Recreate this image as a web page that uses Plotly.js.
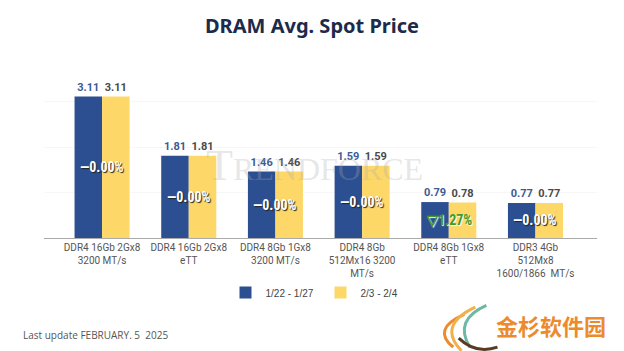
<!DOCTYPE html>
<html><head><meta charset="utf-8">
<script src="https://cdn.plot.ly/plotly-3.0.1.min.js"></script>
<style>html,body{margin:0;padding:0;background:#fff}#chart{width:624px;height:351px}</style>
</head><body><div id="chart"></div>
<script>
const categories = ["DDR4 16Gb 2Gx8<br>3200 MT/s","DDR4 16Gb 2Gx8<br>eTT","DDR4 8Gb 1Gx8<br>3200 MT/s","DDR4 8Gb<br>512Mx16 3200<br>MT/s","DDR4 8Gb 1Gx8<br>eTT","DDR3 4Gb<br>512Mx8<br>1600/1866  MT/s"];
const seriesNames = ["1/22 - 1/27","2/3 - 2/4"];
const prevPrice = [3.11,1.81,1.46,1.59,0.79,0.77];
const currPrice = [3.11,1.81,1.46,1.59,0.78,0.77];
const changeLabels = ["—0.00%","—0.00%","—0.00%","—0.00%","▽1.27%","—0.00%"];

const BLUE="#2c4f91", YELLOW="#fdd868";
const traces = [
  {type:"bar", name:seriesNames[0], x:categories, y:prevPrice, marker:{color:BLUE},
   text:prevPrice.map(v=>v.toFixed(2)), textposition:"outside", cliponaxis:false,
   textfont:{family:"Roboto", size:11, color:"#3d5b94", weight:700}, hoverinfo:"none"},
  {type:"bar", name:seriesNames[1], x:categories, y:currPrice, marker:{color:YELLOW},
   text:currPrice.map(v=>v.toFixed(2)), textposition:"outside", cliponaxis:false,
   textfont:{family:"Roboto", size:11, color:"#4a4a4a", weight:700}, hoverinfo:"none"}
];

const annotations = [];
annotations.push({xref:"paper", yref:"paper", x:0.49, y:0.40, text:"T<span style='font-size:32px'>RENDFORCE</span>", showarrow:false,
  font:{family:"Liberation Serif", size:44, color:"rgba(170,170,170,0.30)"}});
changeLabels.forEach((t,i)=>{
  const down = t.startsWith("▽");
  annotations.push({x:categories[i], y:Math.max(prevPrice[i],currPrice[i])/2, xref:"x", yref:"y", text:t, showarrow:false,
    font:{family:"Liberation Sans Narrow, Roboto Condensed, Roboto", size:14, weight:700,
      color: down ? "#3f9a2c" : "#ffffff",
      shadow: down ? "1px 1px 1px #ffffff" : "1px 1px 1px #222"}});
});
annotations.push({xref:"paper", yref:"paper", x:-0.041, y:-0.533, xanchor:"left", yanchor:"middle", text:"Last update FEBRUARY. 5  2025", showarrow:false,
  font:{family:"Open Sans", size:10, color:"#555"}});
annotations.push({xref:"paper", yref:"paper", x:1.02, y:-0.48, xanchor:"right", yanchor:"middle", text:"<b>金杉软件园</b>", showarrow:false,
  font:{family:"Noto Sans CJK SC", size:22, color:"#ec8a2c"}});

const layout = {
  width:624, height:351,
  margin:{l:44, r:27, t:56, b:113},
  paper_bgcolor:"#fff", plot_bgcolor:"#fff",
  title:{text:"<b>DRAM Avg. Spot Price</b>", x:0.5, xanchor:"center", y:0.925, yanchor:"middle",
    font:{family:"Noto Sans", size:20, color:"#1c2b4b"}},
  barmode:"group", bargap:0.365, bargroupgap:0,
  xaxis:{type:"category", range:[-0.67,5.71], showline:true, linecolor:"#aaa", linewidth:1, ticks:"",
    tickfont:{family:"Roboto", size:10, color:"#555"}, fixedrange:true},
  yaxis:{range:[0,4], showticklabels:false, showgrid:true, gridcolor:"#f7f7f7", zeroline:false, dtick:1, fixedrange:true},
  legend:{orientation:"h", x:0.5, xanchor:"center", y:-0.30, yanchor:"middle", font:{family:"Liberation Sans", size:10, color:"#444"},
    itemwidth:30, entrywidth:50, entrywidthmode:"pixels"},
  showlegend:true,
  annotations:annotations,
  shapes:[
    {type:"path", xref:"paper", yref:"paper", path:"M 0.76 -0.42 Q 0.70 -0.50 0.74 -0.60", line:{color:"#ec8a2c", width:3}},
    {type:"path", xref:"paper", yref:"paper", path:"M 0.78 -0.38 Q 0.71 -0.48 0.755 -0.62", line:{color:"#f2b04a", width:3}},
    {type:"path", xref:"paper", yref:"paper", path:"M 0.80 -0.37 Q 0.74 -0.45 0.77 -0.60", line:{color:"#6cb8a4", width:3}},
    {type:"path", xref:"paper", yref:"paper", path:"M 0.75 -0.55 Q 0.78 -0.64 0.82 -0.60", line:{color:"#5a3a22", width:3}}
  ]
};
Plotly.newPlot("chart", traces, layout, {staticPlot:true, displayModeBar:false});
</script></body></html>
